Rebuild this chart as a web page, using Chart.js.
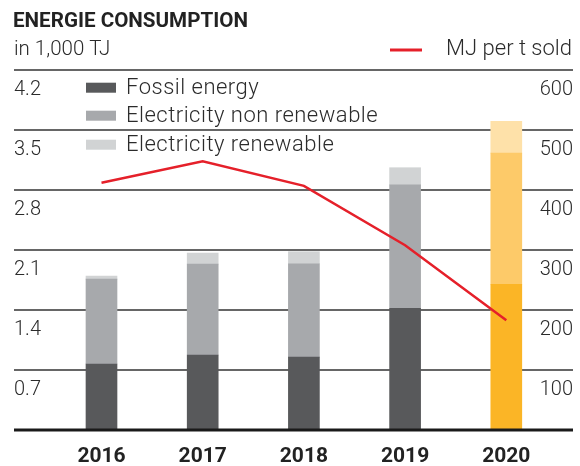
<!DOCTYPE html>
<html>
<head>
<meta charset="utf-8">
<script src="https://cdn.jsdelivr.net/npm/chart.js@4/dist/chart.umd.min.js"></script>
<style>
  html, body { margin: 0; padding: 0; background: #ffffff; }
  #wrap { width: 580px; height: 466px; position: relative; }
</style>
</head>
<body>
<div id="wrap"><canvas id="chart" width="580" height="466"></canvas></div>
<script>
// ---- Data ----
const categories = ['2016', '2017', '2018', '2019', '2020'];
const fossilEnergy = [0.77, 0.875, 0.85, 1.42, 1.70];
const electricityNonRenewable = [0.99, 1.06, 1.09, 1.44, 1.53];
const electricityRenewable = [0.035, 0.13, 0.14, 0.20, 0.37];
const mjPerTSold = [412, 448, 407, 308, 183];
const leftTicks = [0, 0.7, 1.4, 2.1, 2.8, 3.5, 4.2];
const rightTicks = [0, 100, 200, 300, 400, 500, 600];
const seriesLabels = ['Fossil energy', 'Electricity non renewable', 'Electricity renewable'];
const lineLabel = 'MJ per t sold';
const titleText = 'ENERGIE CONSUMPTION';
const subtitleText = 'in 1,000 TJ';

// ---- Styles ----
const grayColors = ['#58595b', '#a7a9ac', '#d1d3d4'];
const highlightColors = ['#fbb526', '#fdca69', '#fee1a9'];
const lineColor = '#e5202a';
const textColor = '#2b2b2b';
const FONT = "Roboto, 'Liberation Sans', sans-serif";

function colorsFor(s) {
  return categories.map((c, i) => i === categories.length - 1 ? highlightColors[s] : grayColors[s]);
}

const overlayPlugin = {
  id: 'overlay',
  beforeDatasetsDraw(chart) {
    const ctx = chart.ctx;
    const y = chart.scales.y;
    ctx.save();
    y.ticks.forEach(t => {
      if (t.value === 0) return;
      const py = Math.round(y.getPixelForValue(t.value));
      ctx.strokeStyle = '#333333';
      ctx.lineWidth = 1.6;
      ctx.beginPath();
      ctx.moveTo(14, py);
      ctx.lineTo(573, py);
      ctx.stroke();
    });
    ctx.restore();
  },
  afterDatasetsDraw(chart) {
    const ctx = chart.ctx;
    const y = chart.scales.y;
    const py = y.getPixelForValue(0);
    ctx.save();
    ctx.strokeStyle = '#1a1a1a';
    ctx.lineWidth = 3;
    ctx.beginPath();
    ctx.moveTo(14, py);
    ctx.lineTo(573, py);
    ctx.stroke();
    ctx.restore();
  },
  afterDraw(chart) {
    const ctx = chart.ctx;
    ctx.save();
    // Right-axis tick labels (from the y1 scale)
    const y1 = chart.scales.y1;
    ctx.font = "300 20px " + FONT;
    ctx.fillStyle = textColor;
    ctx.textAlign = 'right';
    ctx.textBaseline = 'middle';
    y1.ticks.forEach(t => {
      if (t.value === 0) return;
      ctx.fillText(String(t.value), 573, y1.getPixelForValue(t.value) + 20);
    });
    // Title
    ctx.fillStyle = '#222222';
    ctx.textBaseline = 'alphabetic';
    ctx.textAlign = 'left';
    ctx.font = "bold 20.6px " + FONT;
    ctx.fillText(titleText, 13, 27);
    // Subtitle
    ctx.font = "300 20.5px " + FONT;
    ctx.fillStyle = textColor;
    ctx.fillText(subtitleText, 14, 55);
    // Line legend
    ctx.font = "300 22px " + FONT;
    ctx.textAlign = 'right';
    ctx.fillText(lineLabel, 572, 55);
    ctx.strokeStyle = lineColor;
    ctx.lineWidth = 3;
    ctx.beginPath();
    ctx.moveTo(390, 50);
    ctx.lineTo(422, 50);
    ctx.stroke();
    // Bar legend
    const rows = [87.7, 115.7, 144.7];
    ctx.textAlign = 'left';
    ctx.textBaseline = 'middle';
    try { ctx.letterSpacing = '0.5px'; } catch (e) {}
    chart.data.datasets.slice(0, 3).forEach((ds, i) => {
      ctx.fillStyle = grayColors[i];
      ctx.fillRect(86, rows[i] - 5, 30, 10);
      ctx.fillStyle = textColor;
      ctx.fillText(ds.label, 126, rows[i] + 1);
    });
    ctx.restore();
  }
};

new Chart(document.getElementById('chart'), {
  type: 'bar',
  data: {
    labels: categories,
    datasets: [
      { label: seriesLabels[0], data: fossilEnergy, backgroundColor: colorsFor(0), yAxisID: 'y', order: 1, barThickness: 31 },
      { label: seriesLabels[1], data: electricityNonRenewable, backgroundColor: colorsFor(1), yAxisID: 'y', order: 1, barThickness: 31 },
      { label: seriesLabels[2], data: electricityRenewable, backgroundColor: colorsFor(2), yAxisID: 'y', order: 1, barThickness: 31 },
      { type: 'line', label: lineLabel, data: mjPerTSold, yAxisID: 'y1', borderColor: lineColor, borderWidth: 2.5,
        pointRadius: 0, tension: 0, fill: false, order: 0 }
    ]
  },
  options: {
    responsive: false,
    animation: false,
    devicePixelRatio: 1,
    layout: { padding: { top: 70, left: 14, right: 7, bottom: 0 } },
    plugins: { legend: { display: false }, tooltip: { enabled: false }, title: { display: false } },
    scales: {
      x: {
        stacked: true,
        offset: true,
        grid: { display: false, drawTicks: false },
        border: { display: false },
        ticks: { color: '#222222', font: { family: FONT, size: 21, weight: 'bold' }, padding: 14 },
        afterFit(s) { s.height = 36; }
      },
      y: {
        stacked: true,
        position: 'left',
        min: 0, max: 4.2,
        grid: { display: false, drawTicks: false },
        border: { display: false },
        afterBuildTicks(s) { s.ticks = leftTicks.map(v => ({ value: v })); },
        ticks: {
          labelOffset: 20, crossAlign: 'far', padding: 0, color: textColor,
          font: { family: FONT, size: 20, weight: '300' },
          callback: v => v === 0 ? '' : v.toFixed(1)
        },
        afterFit(s) { s.width = 36.9; }
      },
      y1: {
        position: 'right',
        min: 0, max: 600,
        grid: { display: false, drawTicks: false },
        border: { display: false },
        afterBuildTicks(s) { s.ticks = rightTicks.map(v => ({ value: v })); },
        ticks: { display: false },
        afterFit(s) { s.width = 16.1; }
      }
    }
  },
  plugins: [overlayPlugin]
});
</script>
</body>
</html>
